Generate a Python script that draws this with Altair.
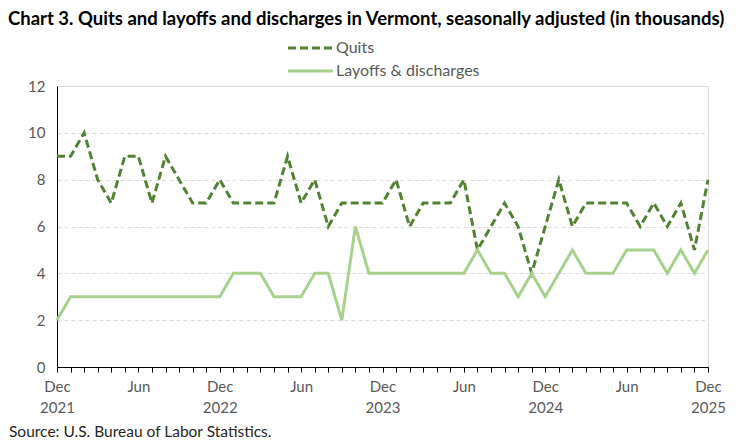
import altair as alt
import pandas as pd

# ---- data (thousands) ----
month_index = list(range(49))  # Dec 2021 .. Dec 2025
quits = [9, 9, 10, 8, 7, 9, 9, 7, 9, 8, 7, 7, 8, 7, 7, 7, 7, 9, 7, 8, 6, 7, 7, 7, 7,
         8, 6, 7, 7, 7, 8, 5, 6, 7, 6, 4, 6, 8, 6, 7, 7, 7, 7, 6, 7, 6, 7, 5, 8]
layoffs = [2, 3, 3, 3, 3, 3, 3, 3, 3, 3, 3, 3, 3, 4, 4, 4, 3, 3, 3, 4, 4, 2, 6, 4, 4,
           4, 4, 4, 4, 4, 4, 5, 4, 4, 3, 4, 3, 4, 5, 4, 4, 4, 5, 5, 5, 4, 5, 4, 5]
series_names = ["Quits", "Layoffs & discharges"]
series_colors = ["#548235", "#A9D18E"]
x_label_positions = [0, 6, 12, 18, 24, 30, 36, 42, 48]
x_label_texts = [["Dec", "2021"], "Jun", ["Dec", "2022"], "Jun", ["Dec", "2023"],
                 "Jun", ["Dec", "2024"], "Jun", ["Dec", "2025"]]
y_ticks = [0, 2, 4, 6, 8, 10, 12]

title_text = "Chart 3. Quits and layoffs and discharges in Vermont, seasonally adjusted (in thousands)"
source_text = "Source: U.S. Bureau of Labor Statistics."

FONT = "Lato"
GREY = "#595959"

df = pd.DataFrame({
    "m": month_index * 2,
    "value": quits + layoffs,
    "series": [series_names[0]] * 49 + [series_names[1]] * 49,
})

# label expression
lab = [""] * 49
for p, t in zip(x_label_positions, x_label_texts):
    lab[p] = t
def js(v):
    if isinstance(v, list):
        return "[" + ",".join("'" + s + "'" for s in v) + "]"
    return "'" + v + "'"
label_expr = "[" + ",".join(js(v) for v in lab) + "][datum.value]"

x_enc = alt.X("m:Q", scale=alt.Scale(domain=[0, 48], nice=False, zero=False),
              axis=alt.Axis(values=month_index, labelExpr=label_expr, title=None,
                            grid=False, tickSize=5, tickColor="black", domainColor="black",
                            labelFont=FONT, labelFontSize=15, labelColor=GREY,
                            labelPadding=7, labelLineHeight=21, labelOverlap=False,
                            labelFlush=False, labelBound=False))
y_enc = alt.Y("value:Q", scale=alt.Scale(domain=[0, 12], nice=False),
              axis=alt.Axis(values=y_ticks, title=None, ticks=False, domainColor="black",
                            gridColor="#d9d9d9", gridDash=[4, 3], labelFont=FONT,
                            labelFontSize=15, labelColor=GREY, labelPadding=12))

lines = alt.Chart(df).mark_line(strokeWidth=3).encode(
    x=x_enc, y=y_enc,
    color=alt.Color("series:N", scale=alt.Scale(domain=series_names, range=series_colors), legend=None),
    strokeDash=alt.StrokeDash("series:N", scale=alt.Scale(domain=series_names, range=[[8, 4], [1, 0]]), legend=None),
)

one = pd.DataFrame({"a": [0]})

title = alt.Chart(one).mark_text(text=title_text, font=FONT, fontSize=18.5, fontWeight="bold",
                                 color="black", align="left", baseline="middle").encode(
    x=alt.value(-49), y=alt.value(-67))
source = alt.Chart(one).mark_text(text=source_text, font=FONT, fontSize=15.5, color="#262626",
                                  align="left", baseline="middle").encode(
    x=alt.value(-48), y=alt.value(346))

leg_q_line = alt.Chart(one).mark_rule(color=series_colors[0], strokeWidth=3, strokeDash=[8, 4]).encode(
    x=alt.value(231), x2=alt.value(276), y=alt.value(-38))
leg_l_line = alt.Chart(one).mark_rule(color=series_colors[1], strokeWidth=3).encode(
    x=alt.value(231), x2=alt.value(276), y=alt.value(-15))
leg_q_text = alt.Chart(one).mark_text(text=series_names[0], font=FONT, fontSize=16, color=GREY,
                                      align="left", baseline="middle").encode(
    x=alt.value(279), y=alt.value(-38))
leg_l_text = alt.Chart(one).mark_text(text=series_names[1], font=FONT, fontSize=16, color=GREY,
                                      align="left", baseline="middle").encode(
    x=alt.value(279), y=alt.value(-15))

chart = alt.layer(lines, title, source, leg_q_line, leg_l_line, leg_q_text, leg_l_text).properties(
    width=651, height=281,
    autosize=alt.AutoSizeParams(type="none"),
    padding={"left": 49, "top": 78, "right": 34, "bottom": 78},
    background="white",
).configure_view(stroke="#d9d9d9", strokeWidth=1)

chart.save("out.html", embed_options={"renderer": "svg", "actions": False})
